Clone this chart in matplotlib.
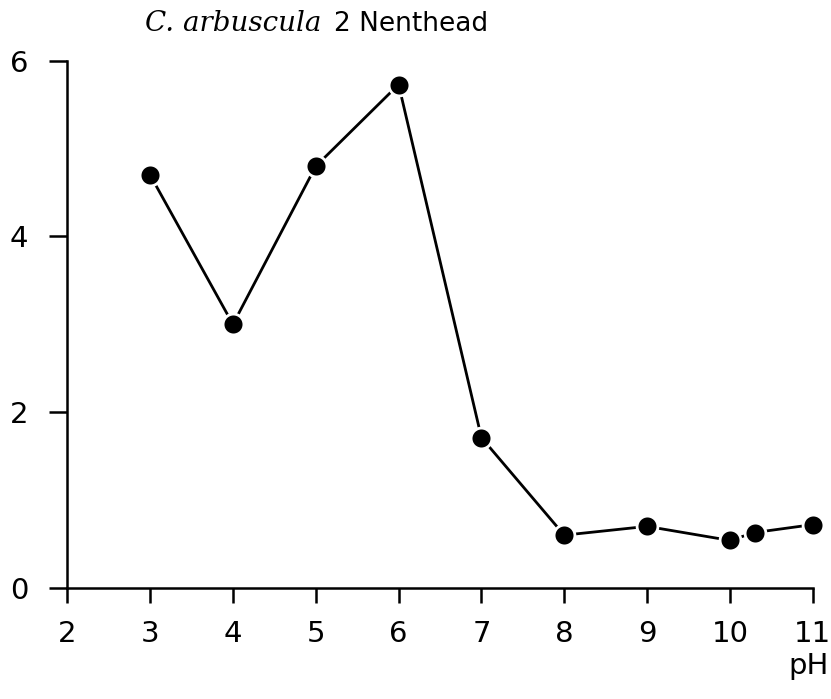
import matplotlib.pyplot as plt

# pH values and response
ph = [3, 4, 5, 6, 7, 8, 9, 10, 10.3, 11]
values = [4.7, 3.0, 4.8, 5.73, 1.71, 0.60, 0.70, 0.54, 0.63, 0.72]

x_ticks = [2, 3, 4, 5, 6, 7, 8, 9, 10, 11]
y_ticks = [0, 2, 4, 6]

fig = plt.figure(figsize=(8.31, 6.99), dpi=100)
ax = fig.add_axes([0.081, 0.159, 0.897, 0.754])

ax.plot(ph, values, color='black', linewidth=2.0, marker='o', markersize=15,
        markerfacecolor='black', markeredgecolor='white', markeredgewidth=2.0,
        clip_on=False, zorder=3)

ax.set_xlim(2, 11)
ax.set_ylim(0, 6)
ax.set_xticks(x_ticks)
ax.set_yticks(y_ticks)

for side in ['top', 'right']:
    ax.spines[side].set_visible(False)
for side in ['left', 'bottom']:
    ax.spines[side].set_linewidth(1.8)

ax.tick_params(axis='x', direction='out', length=11, width=1.8, pad=12, labelsize=21)
ax.tick_params(axis='y', direction='out', length=13, width=1.8, pad=15, labelsize=21)

fig.text(0.997, 0.027, 'pH', ha='right', va='bottom', fontsize=21)

fig.text(0.175, 0.955, 'C. arbuscula', ha='left', va='baseline', fontsize=20,
         family='DejaVu Serif', style='italic')
fig.text(0.402, 0.955, '2 Nenthead', ha='left', va='baseline', fontsize=19)

fig.savefig('out.png', dpi=100)
